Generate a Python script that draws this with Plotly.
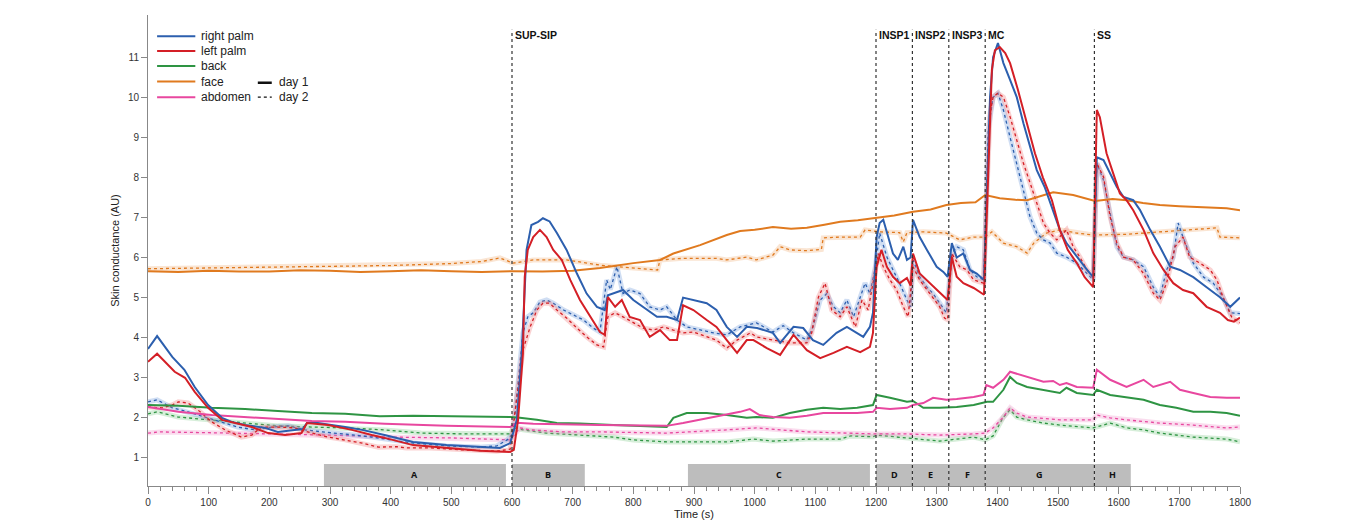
import plotly.graph_objects as go

# ---------------- data ----------------
rp1_t = [0, 15, 40, 60, 77, 99, 122, 138, 160, 193, 214, 242, 255, 262, 280, 325, 353, 390, 437, 492, 547, 580, 597, 608, 616, 624, 632, 643, 651, 662, 674, 690, 707, 723, 740, 753, 758, 767, 783, 800, 822, 839, 855, 872, 882, 899, 921, 937, 954, 971, 987, 1004, 1030, 1042, 1064, 1080, 1096, 1113, 1135, 1152, 1169, 1179, 1190, 1195, 1201, 1206, 1212, 1220, 1228, 1236, 1245, 1251, 1257, 1261, 1272, 1284, 1300, 1311, 1318, 1325, 1333, 1344, 1355, 1366, 1378, 1388, 1393, 1401, 1410, 1421, 1432, 1443, 1454, 1465, 1478, 1492, 1503, 1514, 1531, 1548, 1558, 1564, 1575, 1586, 1597, 1608, 1624, 1635, 1652, 1668, 1685, 1701, 1723, 1745, 1767, 1784, 1800]
rp1_v = [3.72, 4.04, 3.52, 3.2, 2.77, 2.32, 2.0, 1.9, 1.82, 1.75, 1.65, 1.7, 1.72, 1.87, 1.87, 1.77, 1.70, 1.57, 1.40, 1.32, 1.27, 1.25, 1.37, 1.95, 3.6, 6.19, 6.81, 6.89, 6.98, 6.9, 6.61, 6.19, 5.6, 5.1, 4.77, 4.69, 5.06, 5.1, 5.19, 4.94, 4.69, 4.52, 4.52, 4.44, 5.0, 4.94, 4.86, 4.69, 4.27, 4.02, 4.27, 4.24, 4.12, 3.87, 4.27, 4.24, 3.94, 3.82, 4.12, 4.27, 4.12, 4.02, 4.27, 4.62, 6.51, 6.86, 6.94, 6.5, 6.1, 5.94, 6.27, 5.94, 6.0, 6.94, 6.51, 6.19, 5.77, 5.64, 5.52, 6.36, 6.0, 6.1, 5.69, 5.6, 5.44, 10.0, 11.0, 11.35, 10.85, 10.43, 10.0, 9.35, 8.76, 8.18, 7.76, 7.18, 6.69, 6.36, 6.01, 5.69, 5.51, 8.5, 8.43, 8.1, 7.76, 7.51, 7.43, 7.19, 6.69, 6.27, 5.77, 5.69, 5.51, 5.26, 5.01, 4.77, 5.0]

lp1_t = [0, 15, 44, 61, 77, 99, 122, 143, 171, 198, 226, 253, 262, 297, 336, 369, 390, 437, 492, 547, 597, 603, 610, 618, 621, 626, 635, 646, 657, 668, 682, 696, 712, 729, 745, 753, 758, 770, 781, 794, 811, 827, 844, 860, 872, 882, 899, 921, 937, 954, 971, 987, 998, 1020, 1042, 1064, 1086, 1108, 1130, 1152, 1174, 1190, 1195, 1201, 1209, 1218, 1228, 1239, 1251, 1257, 1261, 1272, 1289, 1305, 1318, 1325, 1333, 1344, 1361, 1378, 1391, 1396, 1404, 1413, 1421, 1434, 1449, 1462, 1475, 1490, 1503, 1516, 1531, 1544, 1558, 1564, 1569, 1580, 1591, 1602, 1613, 1624, 1641, 1657, 1674, 1690, 1706, 1723, 1745, 1767, 1780, 1790, 1800]
lp1_v = [3.4, 3.6, 3.15, 3.0, 2.65, 2.25, 1.95, 1.87, 1.77, 1.62, 1.57, 1.62, 1.87, 1.82, 1.70, 1.57, 1.5, 1.32, 1.25, 1.18, 1.15, 1.2, 1.95, 3.6, 5.52, 6.19, 6.51, 6.69, 6.51, 6.19, 5.94, 5.44, 4.94, 4.52, 4.14, 4.07, 5.01, 4.77, 4.94, 4.52, 4.44, 4.02, 4.19, 3.94, 3.94, 4.81, 4.69, 4.44, 4.27, 3.94, 3.62, 3.94, 3.94, 3.74, 3.57, 4.07, 3.69, 3.49, 3.62, 3.77, 3.64, 3.77, 4.12, 5.77, 6.19, 5.77, 5.52, 5.36, 5.49, 5.3, 6.1, 5.6, 5.36, 5.11, 4.94, 6.01, 5.52, 5.36, 5.24, 5.07, 10.68, 11.17, 11.25, 11.1, 10.85, 10.18, 9.35, 8.6, 8.0, 7.43, 6.69, 6.19, 5.86, 5.51, 5.26, 9.68, 9.5, 8.6, 8.1, 7.6, 7.43, 7.18, 6.69, 6.11, 5.69, 5.36, 5.19, 5.11, 4.77, 4.62, 4.44, 4.4, 4.5]

rp2_t = [0, 15, 40, 66, 94, 122, 148, 176, 204, 231, 259, 287, 313, 341, 369, 390, 437, 492, 547, 575, 592, 602, 613, 618, 626, 635, 646, 657, 668, 685, 701, 718, 734, 745, 756, 762, 773, 783, 794, 811, 827, 844, 855, 872, 888, 910, 932, 954, 976, 1003, 1030, 1047, 1064, 1086, 1096, 1108, 1119, 1130, 1141, 1152, 1163, 1174, 1182, 1190, 1199, 1206, 1218, 1228, 1239, 1251, 1257, 1261, 1272, 1284, 1294, 1305, 1316, 1325, 1333, 1344, 1355, 1366, 1378, 1385, 1393, 1401, 1410, 1421, 1432, 1443, 1454, 1465, 1476, 1487, 1498, 1514, 1531, 1548, 1558, 1564, 1575, 1586, 1597, 1608, 1624, 1641, 1657, 1668, 1679, 1690, 1698, 1706, 1723, 1740, 1756, 1772, 1784, 1800]
rp2_v = [2.4, 2.45, 2.25, 2.15, 2.02, 1.9, 1.77, 1.70, 1.77, 1.8, 1.7, 1.65, 1.62, 1.57, 1.52, 1.47, 1.37, 1.3, 1.27, 1.3, 1.45, 1.62, 3.27, 4.12, 4.52, 4.62, 4.89, 4.94, 4.86, 4.69, 4.57, 4.44, 4.24, 4.14, 5.44, 5.2, 5.77, 5.1, 5.19, 5.1, 4.77, 4.69, 4.77, 4.44, 4.27, 4.19, 4.12, 4.07, 4.27, 4.37, 4.14, 4.3, 4.12, 3.94, 4.27, 4.94, 5.1, 4.77, 4.62, 4.94, 4.52, 5.01, 5.36, 5.1, 5.77, 6.61, 6.01, 5.69, 5.36, 4.94, 4.77, 5.94, 5.52, 5.26, 5.1, 4.86, 4.62, 6.1, 6.27, 6.19, 5.69, 5.52, 5.44, 9.18, 10.0, 10.1, 9.68, 9.0, 8.35, 7.68, 7.01, 6.61, 6.44, 6.36, 6.11, 6.01, 5.86, 5.6, 5.44, 8.35, 7.93, 7.1, 6.27, 6.01, 5.94, 5.77, 5.26, 5.01, 5.69, 6.01, 6.86, 6.51, 5.86, 5.51, 5.36, 5.01, 4.62, 4.6]

lp2_t = [0, 23, 40, 50, 66, 82, 105, 127, 154, 171, 187, 214, 242, 270, 297, 325, 353, 380, 410, 426, 465, 520, 575, 597, 608, 618, 630, 641, 651, 662, 674, 690, 707, 723, 740, 751, 758, 770, 783, 800, 816, 833, 850, 866, 882, 899, 921, 937, 954, 971, 993, 1003, 1030, 1058, 1086, 1094, 1105, 1116, 1127, 1141, 1152, 1166, 1177, 1187, 1195, 1204, 1212, 1223, 1234, 1245, 1253, 1261, 1272, 1284, 1294, 1305, 1313, 1318, 1325, 1338, 1350, 1361, 1377, 1388, 1393, 1401, 1410, 1421, 1432, 1443, 1454, 1465, 1476, 1487, 1498, 1514, 1525, 1536, 1548, 1558, 1564, 1575, 1586, 1597, 1608, 1624, 1641, 1657, 1668, 1679, 1693, 1706, 1717, 1734, 1751, 1762, 1772, 1786, 1800]
lp2_v = [2.27, 2.25, 2.32, 2.4, 2.37, 2.2, 1.9, 1.7, 1.52, 1.57, 1.77, 1.77, 1.75, 1.62, 1.52, 1.45, 1.37, 1.27, 1.28, 1.25, 1.25, 1.2, 1.17, 1.22, 2.45, 3.69, 4.27, 4.69, 4.86, 4.86, 4.69, 4.49, 4.24, 4.02, 3.82, 3.77, 4.52, 4.62, 4.52, 4.37, 4.24, 4.19, 4.27, 4.19, 4.12, 4.14, 4.02, 3.94, 3.74, 3.94, 4.12, 4.02, 3.94, 3.87, 3.87, 4.12, 5.01, 5.36, 4.69, 4.52, 4.77, 4.27, 4.94, 4.69, 5.36, 6.1, 5.77, 5.44, 5.19, 4.77, 4.52, 5.77, 5.44, 5.19, 5.01, 4.77, 4.49, 4.45, 6.1, 5.77, 5.69, 5.44, 5.36, 9.6, 10.0, 10.1, 10.0, 9.51, 8.93, 8.35, 7.86, 7.36, 6.86, 6.61, 6.44, 6.69, 6.27, 6.01, 5.69, 5.51, 8.35, 8.01, 7.01, 6.36, 6.01, 5.94, 5.6, 5.11, 4.94, 5.36, 6.27, 6.51, 6.01, 5.86, 5.69, 5.44, 5.01, 4.52, 4.37]

f1_t = [0, 50, 100, 150, 200, 250, 300, 350, 400, 450, 500, 550, 600, 650, 700, 745, 800, 844, 866, 910, 954, 976, 1000, 1030, 1060, 1086, 1115, 1141, 1170, 1195, 1230, 1261, 1290, 1316, 1340, 1364, 1380, 1404, 1430, 1449, 1470, 1492, 1525, 1561, 1590, 1613, 1640, 1668, 1700, 1723, 1750, 1778, 1800]
f1_v = [5.66, 5.64, 5.67, 5.65, 5.65, 5.68, 5.67, 5.64, 5.66, 5.68, 5.66, 5.64, 5.66, 5.65, 5.67, 5.74, 5.86, 5.94, 6.1, 6.31, 6.56, 6.66, 6.69, 6.76, 6.72, 6.74, 6.82, 6.89, 6.93, 6.98, 7.05, 7.14, 7.2, 7.31, 7.36, 7.38, 7.56, 7.48, 7.44, 7.43, 7.52, 7.63, 7.56, 7.41, 7.46, 7.43, 7.36, 7.31, 7.28, 7.26, 7.25, 7.23, 7.18]

f2_t = [0, 100, 200, 300, 400, 500, 550, 580, 602, 635, 690, 745, 800, 833, 840, 844, 882, 937, 954, 987, 1003, 1030, 1042, 1058, 1086, 1102, 1110, 1113, 1141, 1174, 1182, 1206, 1239, 1245, 1251, 1278, 1316, 1338, 1361, 1380, 1391, 1410, 1432, 1449, 1460, 1481, 1503, 1531, 1558, 1613, 1668, 1723, 1762, 1767, 1800]
f2_v = [5.72, 5.74, 5.76, 5.78, 5.8, 5.85, 5.9, 5.99, 5.86, 5.94, 5.94, 5.81, 5.74, 5.69, 5.69, 5.94, 5.98, 5.98, 5.94, 6.01, 5.94, 6.06, 6.27, 6.19, 6.17, 6.19, 6.2, 6.49, 6.51, 6.51, 6.69, 6.64, 6.62, 6.39, 6.62, 6.64, 6.61, 6.44, 6.51, 6.51, 6.64, 6.36, 6.27, 6.11, 6.36, 6.61, 6.69, 6.61, 6.56, 6.58, 6.64, 6.71, 6.74, 6.51, 6.49]

b1_t = [0, 50, 105, 160, 214, 270, 325, 382, 437, 492, 547, 597, 613, 641, 674, 712, 767, 800, 855, 866, 888, 921, 954, 987, 1003, 1030, 1058, 1086, 1113, 1141, 1169, 1195, 1201, 1223, 1251, 1261, 1278, 1305, 1333, 1361, 1383, 1393, 1410, 1421, 1432, 1449, 1476, 1503, 1514, 1531, 1558, 1564, 1586, 1613, 1641, 1668, 1695, 1723, 1751, 1778, 1800]
b1_v = [2.32, 2.3, 2.25, 2.22, 2.17, 2.12, 2.1, 2.04, 2.05, 2.04, 2.04, 2.02, 2.0, 1.95, 1.87, 1.86, 1.82, 1.8, 1.77, 2.0, 2.12, 2.12, 2.07, 2.0, 2.02, 2.0, 2.12, 2.2, 2.25, 2.22, 2.25, 2.32, 2.57, 2.5, 2.4, 2.42, 2.25, 2.25, 2.27, 2.32, 2.4, 2.4, 2.7, 3.02, 2.87, 2.77, 2.7, 2.62, 2.75, 2.62, 2.57, 2.7, 2.57, 2.52, 2.45, 2.32, 2.25, 2.15, 2.15, 2.12, 2.05]

b2_t = [0, 15, 50, 105, 160, 214, 270, 325, 390, 450, 520, 597, 602, 618, 657, 712, 767, 800, 855, 910, 954, 998, 1030, 1086, 1141, 1158, 1195, 1201, 1251, 1305, 1361, 1380, 1393, 1410, 1421, 1432, 1449, 1476, 1503, 1558, 1586, 1613, 1641, 1668, 1723, 1778, 1800]
b2_v = [2.1, 2.15, 2.02, 1.95, 1.87, 1.8, 1.77, 1.75, 1.7, 1.62, 1.6, 1.6, 1.75, 1.7, 1.62, 1.57, 1.52, 1.45, 1.4, 1.4, 1.4, 1.47, 1.42, 1.47, 1.47, 1.55, 1.53, 1.57, 1.5, 1.42, 1.52, 1.45, 1.55, 2.02, 2.2, 2.02, 1.95, 1.87, 1.82, 1.75, 1.87, 1.75, 1.7, 1.62, 1.52, 1.47, 1.4]

a1_t = [0, 50, 105, 160, 214, 270, 325, 390, 492, 597, 608, 635, 745, 855, 882, 910, 954, 976, 992, 1008, 1030, 1058, 1086, 1113, 1141, 1169, 1195, 1201, 1223, 1251, 1261, 1278, 1294, 1316, 1333, 1361, 1377, 1382, 1393, 1410, 1421, 1449, 1476, 1492, 1503, 1514, 1531, 1558, 1564, 1586, 1613, 1641, 1657, 1685, 1701, 1723, 1751, 1778, 1800]
a1_v = [2.27, 2.15, 2.07, 2.02, 1.97, 1.92, 1.9, 1.85, 1.8, 1.77, 1.88, 1.85, 1.82, 1.8, 1.87, 1.95, 2.07, 2.15, 2.22, 2.07, 2.02, 2.0, 2.05, 2.12, 2.12, 2.12, 2.15, 2.25, 2.22, 2.25, 2.32, 2.37, 2.5, 2.45, 2.47, 2.52, 2.57, 2.82, 2.75, 2.95, 3.15, 3.02, 2.9, 2.92, 2.82, 2.87, 2.77, 2.75, 3.2, 2.95, 2.77, 2.95, 2.77, 2.9, 2.7, 2.62, 2.52, 2.5, 2.5]

a2_t = [0, 20, 100, 200, 300, 400, 500, 597, 613, 630, 685, 745, 855, 954, 1003, 1086, 1141, 1195, 1251, 1305, 1361, 1380, 1393, 1410, 1421, 1432, 1449, 1503, 1558, 1564, 1586, 1613, 1668, 1723, 1778, 1800]
a2_v = [1.62, 1.65, 1.63, 1.6, 1.57, 1.52, 1.5, 1.45, 1.75, 1.7, 1.65, 1.65, 1.62, 1.7, 1.75, 1.65, 1.62, 1.6, 1.6, 1.57, 1.6, 1.62, 1.75, 2.02, 2.25, 2.12, 2.02, 1.95, 1.95, 2.07, 2.0, 1.95, 1.87, 1.82, 1.75, 1.77]

series_names = ["right palm", "left palm", "back", "face", "abdomen"]
event_times = [600, 1200, 1260, 1320, 1380, 1560]
event_labels = ["SUP-SIP", "INSP1", "INSP2", "INSP3", "MC", "SS"]
bar_labels = ["A", "B", "C", "D", "E", "F", "G", "H"]
bar_start = [290, 600, 890, 1200, 1260, 1320, 1380, 1560]
bar_end = [590, 720, 1190, 1260, 1320, 1380, 1560, 1620]
y_ticks = [1, 2, 3, 4, 5, 6, 7, 8, 9, 10, 11]
x_ticks = list(range(0, 1801, 100))

# ---------------- styling ----------------
colors = {"right palm": "#2c5fae", "left palm": "#d41f26", "back": "#2e9443",
          "face": "#e07a1f", "abdomen": "#e8479f"}
band = {"right palm": "rgba(120,160,220,0.35)", "left palm": "rgba(240,130,130,0.35)",
        "back": "rgba(120,200,130,0.30)", "face": "rgba(240,170,110,0.30)",
        "abdomen": "rgba(240,140,200,0.30)"}

day1 = {"right palm": (rp1_t, rp1_v), "left palm": (lp1_t, lp1_v), "back": (b1_t, b1_v),
        "face": (f1_t, f1_v), "abdomen": (a1_t, a1_v)}
day2 = {"right palm": (rp2_t, rp2_v), "left palm": (lp2_t, lp2_v), "back": (b2_t, b2_v),
        "face": (f2_t, f2_v), "abdomen": (a2_t, a2_v)}

FONT = "Liberation Sans, Arial, sans-serif"
fig = go.Figure()

order = ["face", "back", "abdomen", "right palm", "left palm"]
for name in order:
    t, v = day2[name]
    fig.add_trace(go.Scatter(x=t, y=v, mode="lines", line=dict(color=band[name], width=5),
                             showlegend=False, hoverinfo="skip"))
    fig.add_trace(go.Scatter(x=t, y=v, mode="lines", line=dict(color=colors[name], width=1.3, dash="dot"),
                             showlegend=False, name=name + " day 2"))
for name in order:
    t, v = day1[name]
    fig.add_trace(go.Scatter(x=t, y=v, mode="lines", line=dict(color=colors[name], width=2),
                             showlegend=False, name=name + " day 1"))

shapes = []
annotations = []
YMIN, YMAX = 0.3, 12.05
BAR_TOP = 0.85
for s, e, lab in zip(bar_start, bar_end, bar_labels):
    shapes.append(dict(type="rect", xref="x", yref="y", x0=s, x1=e, y0=YMIN, y1=BAR_TOP,
                       fillcolor="#bdbdbd", line=dict(width=0), layer="below"))
    annotations.append(dict(x=(s + e) / 2, y=(YMIN + BAR_TOP) / 2, xref="x", yref="y", text="<b>%s</b>" % lab,
                            showarrow=False, font=dict(family="Open Sans, " + FONT, size=9, color="#111")))
for et, lab in zip(event_times, event_labels):
    shapes.append(dict(type="line", xref="x", yref="y", x0=et, x1=et, y0=YMIN, y1=11.68,
                       line=dict(color="#333", width=1.2, dash="dot")))
    annotations.append(dict(x=et, y=11.55, xref="x", yref="y", text="<b>%s</b>" % lab, showarrow=False,
                            xanchor="left", xshift=1, font=dict(family=FONT, size=10.5, color="#111")))

# legend (drawn)
leg_y = [11.52, 11.15, 10.78, 10.39, 10.0]
for name, yy in zip(series_names, leg_y):
    shapes.append(dict(type="line", xref="x", yref="y", x0=15, x1=78, y0=yy, y1=yy,
                       line=dict(color=colors[name], width=2)))
    annotations.append(dict(x=84, y=yy, xref="x", yref="y", text=name, showarrow=False, xanchor="left",
                            font=dict(family=FONT, size=12, color="#222")))
shapes.append(dict(type="line", xref="x", yref="y", x0=181, x1=204, y0=10.36, y1=10.36,
                   line=dict(color="#111", width=2.5)))
shapes.append(dict(type="line", xref="x", yref="y", x0=181, x1=204, y0=10.0, y1=10.0,
                   line=dict(color="#111", width=1.2, dash="dot")))
annotations.append(dict(x=212, y=10.39, xref="x", yref="y", text="day 1", showarrow=False, xanchor="left",
                        font=dict(family=FONT, size=12, color="#222")))
annotations.append(dict(x=212, y=10.0, xref="x", yref="y", text="day 2", showarrow=False, xanchor="left",
                        font=dict(family=FONT, size=12, color="#222")))

# page body has an 8px margin: size the figure so the plot area lands where the reference has it
W, H, L, R, T, B = 1349, 519, 140, 117, 7, 41

fig.update_layout(
    width=W, height=H, margin=dict(l=L, r=R, t=T, b=B),
    plot_bgcolor="white", paper_bgcolor="white",
    font=dict(family=FONT, size=10, color="#333"),
    shapes=shapes, annotations=annotations, showlegend=False,
    xaxis=dict(range=[0, 1800], tickvals=x_ticks, ticktext=[str(x) for x in x_ticks],
               showline=True, linecolor="#888", linewidth=1, ticks="outside", ticklen=7,
               tickcolor="#888", showgrid=False, zeroline=False,
               minor=dict(dtick=20, ticks="outside", ticklen=4, tickcolor="#888"),
               tickfont=dict(size=10, color="#333"),
               title=dict(text="Time (s)", standoff=3, font=dict(size=11, color="#222"))),
    yaxis=dict(range=[YMIN, YMAX], tickvals=y_ticks, showline=True, linecolor="#888", linewidth=1,
               ticks="outside", ticklen=6, tickcolor="#888", showgrid=False, zeroline=False,
               tickfont=dict(size=10, color="#333"),
               title=dict(text="Skin conductance (AU)", standoff=6, font=dict(size=11, color="#222"))),
)

fig.write_html("out.html")
